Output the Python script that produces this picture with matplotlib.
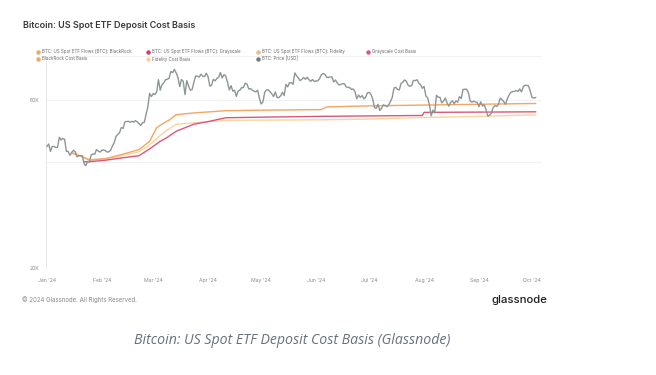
import numpy as np
import pandas as pd
import matplotlib
matplotlib.use("Agg")
import matplotlib.pyplot as plt
from matplotlib.lines import Line2D
from matplotlib.ticker import FixedLocator, NullLocator

# ---------------- data ----------------
price_start = "2024-01-01"
btc_price_k = [
    # Jan
    44.2, 44.9, 42.8, 44.2, 44.2, 43.9, 43.9, 46.9, 46.1, 46.6, 46.3, 42.8, 42.8, 41.7, 42.5, 43.1,
    42.7, 41.3, 41.6, 41.6, 41.6, 39.5, 39.0, 40.1, 39.9, 41.8, 42.1, 42.0, 43.3, 42.9, 42.6,
    # Feb
    43.1, 43.2, 43.0, 42.6, 42.7, 43.1, 44.3, 45.3, 47.1, 47.8, 48.3, 50.0, 49.7, 51.8, 52.0, 52.1,
    51.7, 52.1, 51.8, 52.3, 51.9, 51.3, 50.7, 51.6, 51.7, 54.5, 57.1, 62.5, 61.2,
    # Mar
    62.4, 62.0, 63.1, 68.3, 63.8, 66.1, 66.9, 68.3, 68.5, 69.0, 72.1, 71.5, 73.1, 71.4, 69.4, 65.3,
    68.4, 67.6, 62.0, 67.9, 65.5, 63.8, 64.0, 67.2, 70.0, 69.9, 69.5, 70.8, 69.9, 69.7, 71.3,
    # Apr
    69.7, 65.5, 65.9, 68.5, 67.8, 68.9, 69.4, 71.6, 69.1, 70.6, 70.0, 67.1, 63.9, 65.7, 63.4, 63.8,
    61.3, 63.5, 63.8, 64.9, 64.9, 66.8, 66.4, 64.3, 64.5, 63.8, 63.4, 63.1, 63.8, 60.6,
    # May
    58.3, 59.1, 62.9, 63.9, 64.0, 63.2, 62.3, 61.2, 63.1, 60.8, 60.8, 61.5, 62.9, 61.6, 66.3, 65.2,
    67.0, 67.0, 66.3, 71.4, 70.1, 69.1, 67.9, 68.5, 69.3, 68.5, 69.4, 68.3, 67.6, 68.4, 67.5,
    # Jun
    67.8, 67.8, 68.8, 70.6, 71.1, 70.8, 69.4, 69.3, 69.6, 69.5, 67.3, 68.2, 66.8, 66.0, 66.2, 66.6,
    66.5, 65.2, 65.0, 64.9, 64.1, 64.3, 63.2, 60.3, 61.8, 60.9, 61.6, 60.3, 60.9, 62.7,
    # Jul
    62.9, 62.1, 60.2, 57.0, 56.7, 58.2, 55.9, 56.7, 58.0, 57.7, 57.3, 57.9, 59.2, 60.8, 64.7, 65.0,
    64.1, 63.9, 66.7, 67.2, 68.2, 67.6, 65.9, 65.4, 65.8, 68.0, 67.9, 68.3, 66.8, 66.2, 64.6,
    # Aug
    65.4, 61.5, 60.7, 58.1, 54.0, 56.0, 55.0, 61.7, 60.9, 60.9, 58.7, 59.4, 60.6, 58.7, 57.5, 58.9,
    59.5, 58.4, 59.5, 59.0, 61.2, 60.4, 64.1, 64.2, 64.2, 62.9, 59.5, 59.0, 59.4, 59.1, 58.9,
    # Sep
    57.3, 59.1, 57.5, 58.0, 56.2, 53.9, 54.2, 54.9, 57.0, 57.7, 57.4, 58.1, 60.6, 60.0, 59.2, 58.2,
    60.3, 61.8, 62.9, 63.2, 63.3, 63.6, 63.3, 64.3, 63.1, 65.2, 65.9, 65.8, 65.6, 63.3,
    # Oct
    60.8, 60.6, 60.8,
]

blackrock_dates = ["2024-01-15", "2024-01-20", "2024-01-25", "2024-02-03", "2024-02-12", "2024-02-22",
                   "2024-02-28", "2024-03-03", "2024-03-07", "2024-03-10", "2024-03-14", "2024-03-24",
                   "2024-04-11", "2024-05-01", "2024-06-04", "2024-06-07", "2024-07-01", "2024-08-01",
                   "2024-09-01", "2024-10-03"]
blackrock_cb_k = [42.3, 41.5, 40.4, 40.8, 41.9, 43.3, 45.7, 50.0, 51.5, 52.5, 54.4, 55.0,
                  55.8, 56.0, 56.2, 57.2, 57.6, 57.9, 58.2, 58.5]

fidelity_dates = ["2024-01-15", "2024-01-20", "2024-01-25", "2024-02-03", "2024-02-12", "2024-02-22",
                  "2024-02-28", "2024-03-05", "2024-03-09", "2024-03-14", "2024-03-27", "2024-04-11",
                  "2024-06-05", "2024-06-28", "2024-08-01", "2024-09-01", "2024-10-03"]
fidelity_cb_k = [42.6, 41.6, 40.6, 40.8, 41.6, 42.7, 44.6, 47.5, 49.2, 51.1, 51.7, 52.4,
                 52.6, 52.8, 53.4, 53.8, 54.3]

grayscale_dates = ["2024-01-22", "2024-01-25", "2024-02-03", "2024-02-12", "2024-02-22", "2024-02-28",
                   "2024-03-05", "2024-03-09", "2024-03-14", "2024-03-24", "2024-04-02", "2024-04-11",
                   "2024-05-01", "2024-06-05", "2024-07-31", "2024-08-01", "2024-10-03"]
grayscale_cb_k = [40.0, 40.0, 40.4, 41.0, 41.6, 43.5, 45.7, 46.9, 48.8, 51.1, 52.1, 53.3,
                  53.5, 53.8, 54.1, 55.2, 55.4]

y_ticks = [20000, 60000]
y_tick_labels = ["20K", "60K"]
x_tick_dates = ["2024-01-01", "2024-02-01", "2024-03-01", "2024-04-01", "2024-05-01", "2024-06-01",
                "2024-07-01", "2024-08-01", "2024-09-01", "2024-10-01"]
x_tick_labels = ["Jan '24", "Feb '24", "Mar '24", "Apr '24", "May '24", "Jun '24",
                 "Jul '24", "Aug '24", "Sep '24", "Oct '24"]

legend_labels = [
    "BTC: US Spot ETF Flows (BTC): BlackRock",
    "BTC: US Spot ETF Flows (BTC): Grayscale",
    "BTC: US Spot ETF Flows (BTC): Fidelity",
    "Grayscale Cost Basis",
    "BlackRock Cost Basis",
    "Fidelity Cost Basis",
    "BTC: Price [USD]",
]

# ---------------- styles ----------------
C_BLACKROCK = "#f4a662"
C_FIDELITY = "#fbd49c"
C_GRAYSCALE = "#dd5678"
C_GRAYSCALE_FLOW = "#d93a62"
C_PRICE = "#8c9694"
legend_colors = [C_BLACKROCK, C_GRAYSCALE_FLOW, "#f7b777", C_GRAYSCALE, C_BLACKROCK, C_FIDELITY, "#6e7b7a"]

plt.rcParams['font.family'] = ['Inter', 'DejaVu Sans']

W, H = 656, 375
fig = plt.figure(figsize=(W / 100, H / 100), dpi=100)
fig.patch.set_facecolor("white")

def fx(px):
    return px / W

def fy(py):
    return 1 - py / H

ax_left, ax_right, ax_top, ax_bottom = 46, 542, 55.5, 268
ax = fig.add_axes([fx(ax_left), fy(ax_bottom), fx(ax_right - ax_left), (ax_bottom - ax_top) / H])

t0 = pd.Timestamp(price_start)
price_dates = pd.date_range(price_start, periods=len(btc_price_k), freq="D")

ax.plot(price_dates, np.array(btc_price_k) * 1000, color=C_PRICE, lw=1.0, zorder=3)
ax.plot(pd.to_datetime(fidelity_dates), np.array(fidelity_cb_k) * 1000, color=C_FIDELITY, lw=1.0, zorder=2)
ax.plot(pd.to_datetime(blackrock_dates), np.array(blackrock_cb_k) * 1000, color=C_BLACKROCK, lw=1.0, zorder=2)
ax.plot(pd.to_datetime(grayscale_dates), np.array(grayscale_cb_k) * 1000, color=C_GRAYSCALE, lw=1.0, zorder=2)

ax.set_yscale("log")
ax.set_ylim(20000, 80000)
ax.set_xlim(t0 - pd.Timedelta(hours=12), t0 + pd.Timedelta(days=279.6))

ax.yaxis.set_major_locator(FixedLocator(y_ticks))
ax.yaxis.set_minor_locator(NullLocator())
ax.set_yticklabels(y_tick_labels)
ax.set_xticks(pd.to_datetime(x_tick_dates))
ax.set_xticklabels(x_tick_labels)

ax.tick_params(axis="both", length=0, labelsize=3.7, colors="#8a8a8a")
ax.tick_params(axis="x", pad=7.5)
ax.tick_params(axis="y", pad=4.5)

for g in [20000, 40000, 60000, 80000]:
    ax.axhline(g, color="#f0f0f0", lw=0.6, zorder=0)

for s in ["top", "right", "bottom"]:
    ax.spines[s].set_visible(False)
ax.spines["left"].set_color("#e4e4e4")
ax.spines["left"].set_linewidth(0.6)

# title
fig.text(fx(23), fy(26), "Bitcoin: US Spot ETF Deposit Cost Basis", fontsize=6.5, fontweight="semibold",
         color="#3a3a3a", va="center", ha="left")

# legend (manual)
leg_pos = [(38, 52), (148, 52), (258, 52), (368, 52), (38, 59), (148, 59), (258, 59)]
for (lx, ly), lab, col in zip(leg_pos, legend_labels, legend_colors):
    fig.add_artist(Line2D([fx(lx)], [fy(ly)], marker="o", markersize=2.2, color=col, lw=0,
                          transform=fig.transFigure))
    fig.text(fx(lx + 4), fy(ly), lab, fontsize=3.2, color="#6a6a6a", va="center", ha="left")

# footer
fig.text(fx(22), fy(300), "\u00a9 2024 Glassnode. All Rights Reserved.", fontsize=4.4, color="#8a8a8a",
         va="center", ha="left")
fig.text(fx(547), fy(300), "glassnode", fontsize=8.2, fontweight="medium", color="#1e1e1e",
         va="center", ha="right")

# caption
fig.text(fx(292), fy(340), "Bitcoin: US Spot ETF Deposit Cost Basis (Glassnode)", fontsize=10.2,
         style="italic", color="#66717f", va="center", ha="center", family=["Open Sans", "DejaVu Sans"])

fig.savefig("out.png", dpi=100, facecolor="white")
